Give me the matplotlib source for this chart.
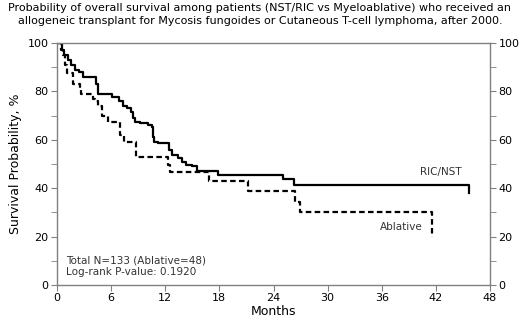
import numpy as np
import matplotlib
matplotlib.use("Agg")
import matplotlib.pyplot as plt
from matplotlib.ticker import MultipleLocator

# Courbes de survie (mois, probabilite %)
ric_t = [0, 0.5, 0.8, 1.2, 1.6, 2.0, 2.4, 2.9, 4.3, 4.6, 6.1, 6.9, 7.3, 7.8, 8.2, 8.4,
         8.6, 9.2, 10.1, 10.5, 10.6, 10.8, 11.2, 12.4, 12.8, 13.4, 13.9, 14.3, 15.0,
         15.5, 17.9, 25.1, 26.3, 45.7, 45.7]
ric_s = [100, 97, 95, 93, 91, 89, 88, 86, 83, 79, 77.5, 76, 74, 73, 71.5, 69,
         67.5, 66.8, 66, 65.4, 61.3, 59.2, 58.5, 55.8, 53.7, 52.3, 51, 49.6, 49,
         47, 45.5, 43.7, 41.3, 41.3, 38]

abl_t = [0, 0.4, 0.7, 0.9, 1.1, 1.8, 2.5, 2.7, 4.0, 4.2, 4.6, 5.0, 5.7, 7.0, 7.4,
         8.8, 12.3, 12.5, 16.8, 21.2, 26.4, 26.9, 41.6, 41.6]
abl_s = [100, 97, 95, 91, 87.5, 83, 81, 79, 77, 76, 74, 70, 67.5, 62, 59,
         53, 49.5, 46.5, 43, 39, 34.5, 30.3, 30.3, 20]

x_ticks = [0, 6, 12, 18, 24, 30, 36, 42, 48]
y_ticks = [0, 20, 40, 60, 80, 100]

title = ("Probability of overall survival among patients (NST/RIC vs Myeloablative) who received an\n"
         "allogeneic transplant for Mycosis fungoides or Cutaneous T-cell lymphoma, after 2000.")

fig = plt.figure(figsize=(5.2, 3.22), dpi=100)
ax = fig.add_axes([57/520, 37/322, 433/520, 242/322])

ax.step(ric_t, ric_s, where='post', color='black', lw=1.6)
ax.step(abl_t, abl_s, where='post', color='black', lw=1.6, dashes=(2.5, 1.5))

ax.set_xlim(0, 48)
ax.set_ylim(0, 100)
ax.set_xticks(x_ticks)
ax.set_yticks(y_ticks)
ax.yaxis.set_minor_locator(MultipleLocator(10))

gris = '#808080'
for s in ax.spines.values():
    s.set_color(gris)
    s.set_linewidth(1.0)
ax.tick_params(which='both', direction='out', color=gris, labelsize=8,
               left=True, right=True, labelright=True, length=4, pad=2)
ax.tick_params(which='minor', length=4)

ax.set_xlabel('Months', fontsize=9, labelpad=1)
ax.set_ylabel('Survival Probability, %', fontsize=9, labelpad=4)

ax.text(42.6, 46.5, 'RIC/NST', fontsize=7.5, color='#333333', ha='center', va='center')
ax.text(38.2, 24, 'Ablative', fontsize=7.5, color='#333333', ha='center', va='center')
ax.text(1.0, 10.3, 'Total N=133 (Ablative=48)', fontsize=7.5, color='#333333', va='center')
ax.text(1.0, 5.5, 'Log-rank P-value: 0.1920', fontsize=7.5, color='#333333', va='center')

fig.text(0.5, 0.99, title, ha='center', va='top', fontsize=8, linespacing=1.3)

fig.savefig('out.png', dpi=100)
